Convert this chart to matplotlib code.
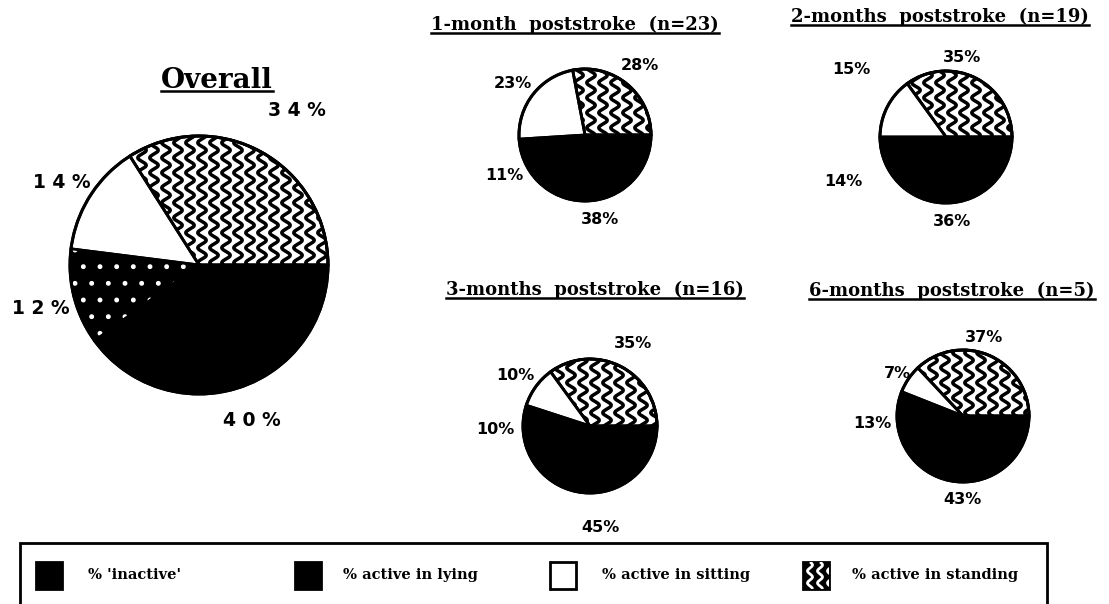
import numpy as np
import matplotlib.pyplot as plt
from matplotlib.patches import Rectangle, Wedge

plt.rcParams['hatch.linewidth'] = 1.1

W, H = 1109, 604

categories = ["% 'inactive'", "% active in lying", "% active in sitting", "% active in standing"]
titles = ["Overall", "1-month  poststroke  (n=23)", "2-months  poststroke  (n=19)",
          "3-months  poststroke  (n=16)", "6-months  poststroke  (n=5)"]

# percentages, in category order: inactive, lying, sitting, standing
overall = [40, 12, 14, 34]
month1 = [38, 11, 23, 28]
month2 = [36, 14, 15, 35]
month3 = [45, 10, 10, 35]
month6 = [43, 13, 7, 37]

# layout in pixels (y from top): centre, radius, title pos, label positions
pies = [
    dict(vals=overall, c=(199, 265), r=129, t=(217, 88), tfs=20, lfs=13.5, spaced=True, dots=True,
         lab=[(252, 420), (41, 308), (62, 182), (297, 110)]),
    dict(vals=month1, c=(585, 135), r=66, t=(575, 30), tfs=13, lfs=11.5, spaced=False, dots=False,
         lab=[(600, 220), (504, 175), (513, 83), (640, 66)]),
    dict(vals=month2, c=(946, 137), r=66, t=(940, 22), tfs=13, lfs=11.5, spaced=False, dots=False,
         lab=[(952, 222), (843, 181), (851, 70), (962, 58)]),
    dict(vals=month3, c=(590, 426), r=67, t=(595, 295), tfs=13, lfs=11.5, spaced=False, dots=False,
         lab=[(600, 528), (495, 430), (515, 376), (633, 343)]),
    dict(vals=month6, c=(963, 416), r=66, t=(952, 296), tfs=13, lfs=11.5, spaced=False, dots=False,
         lab=[(962, 500), (872, 423), (897, 374), (984, 338)]),
]

fig = plt.figure(figsize=(W / 100, H / 100), dpi=100)
ax = fig.add_axes([0, 0, 1, 1])


def waves(patch, x0, x1, y0, y1, step, amp, period, color, lw):
    ys = np.linspace(y0, y1, 500)
    for xc in np.arange(x0, x1 + step, step):
        ln, = ax.plot(xc + amp * np.sin(2 * np.pi * ys / period), ys, color=color, lw=lw,
                      solid_capstyle='butt', zorder=3)
        ln.set_clip_path(patch)


title_texts = []
for i, p in enumerate(pies):
    cx, cy = p['c'][0], H - p['c'][1]
    r = p['r']
    # drawn counter-clockwise from 3 o'clock: standing, sitting, lying, inactive
    vals = p['vals'][::-1]
    wedges, _ = ax.pie(vals, colors=['white', 'white', 'black', 'black'], startangle=0,
                       counterclock=True, center=(cx, cy), radius=r, frame=True,
                       wedgeprops=dict(edgecolor='black', linewidth=2))
    st, si, ly, ina = wedges
    waves(st, cx - r, cx + r, cy - r, cy + r, 12, 4.2, 15, 'black', 2.5)
    if p['dots']:
        ly.set_hatch('.')
        ly.set_edgecolor('white')
        ly.set_linewidth(0)
        ax.add_patch(Wedge((cx, cy), r, ly.theta1, ly.theta2, fill=False,
                           edgecolor='black', lw=2, zorder=2))
    # outline on top of the wave lines
    ax.add_patch(plt.Circle((cx, cy), r, fill=False, edgecolor='black', lw=2.2, zorder=4))
    ax.add_patch(Wedge((cx, cy), r, st.theta1, st.theta2, fill=False,
                       edgecolor='black', lw=2, zorder=4))
    for v, (lx, lyy) in zip(p['vals'], p['lab']):
        s = ' '.join(str(v)) + ' %' if p['spaced'] else f'{v}%'
        ax.text(lx, H - lyy, s, ha='center', va='center', fontsize=p['lfs'],
                fontweight='bold', family='DejaVu Sans')
    t = ax.text(p['t'][0], H - p['t'][1], titles[i], ha='center', va='baseline',
                fontsize=p['tfs'], fontweight='bold', family='DejaVu Serif')
    title_texts.append(t)

# legend box (bottom runs off the page)
ax.add_patch(Rectangle((20, -10), 1027, H - 543 + 10, fill=False, edgecolor='black', lw=2))
sw_x = [36, 295, 550, 803]
tx_x = [88, 343, 602, 852]
sw_fc = ['black', 'black', 'white', 'black']
for k, cat in enumerate(categories):
    sq = Rectangle((sw_x[k], H - 589), 26, 27, facecolor=sw_fc[k], edgecolor='black', lw=2,
                   zorder=3)
    ax.add_patch(sq)
    if k == 3:
        waves(sq, sw_x[k] + 7, sw_x[k] + 20, H - 589, H - 562, 10, 2.5, 12, 'white', 2.0)
    ax.text(tx_x[k], H - 575, cat, ha='left', va='center', fontsize=10.5, fontweight='bold',
            family='DejaVu Serif')

ax.set_xlim(0, W)
ax.set_ylim(0, H)
ax.set_aspect('auto')
ax.axis('off')

# underline the titles
fig.canvas.draw()
rend = fig.canvas.get_renderer()
for t in title_texts:
    bb = t.get_window_extent(rend)
    yb = t.get_position()[1] - 3
    ax.plot([bb.x0, bb.x1], [yb, yb], color='black', lw=1.8)

fig.savefig('out.png', dpi=100)
